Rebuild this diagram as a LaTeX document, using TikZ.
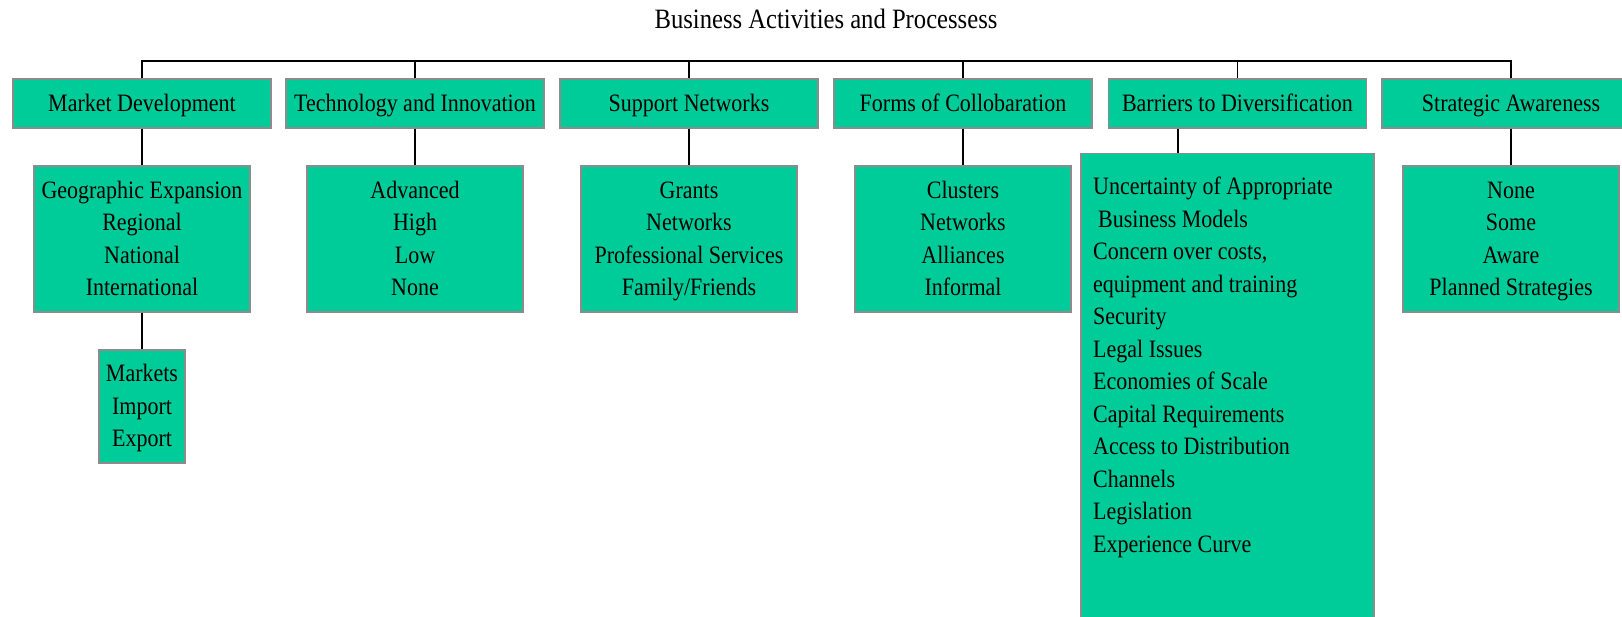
\documentclass[tikz,border=0pt]{standalone}
\usepackage{fontspec}
\setmainfont{Liberation Serif}[FakeStretch=0.88]
\definecolor{boxgreen}{HTML}{00CC99}
\definecolor{boxedge}{HTML}{8C8C8C}
\newcommand\ls{\rule[-5pt]{0pt}{26pt}}
\begin{document}
\begin{tikzpicture}[x=1pt,y=-1pt,
  box/.style={draw=boxedge, line width=1.5pt, fill=boxgreen, inner sep=0pt, align=center, font=\fontsize{25}{32.5}\selectfont},
  head/.style={box, minimum width=258pt, minimum height=49pt},
  sub/.style={box, minimum width=216pt, minimum height=146pt},
  link/.style={draw=black, line width=1.5pt}]
\clip (0,0) rectangle (1622,617);
\fill[white] (0,0) rectangle (1622,617);
\node[anchor=base, inner sep=0pt, font=\fontsize{28}{34}\selectfont] (title) at (826,29) {Business Activities and Processess};
\coordinate (bus) at (0,61);
\coordinate (bdx) at (1178,0);
% top row
\node[head] (md) at (142,103.5) {\ls Market Development};
\node[head] (ti) at (415,103.5) {\ls Technology and Innovation};
\node[head] (sn) at (689,103.5) {\ls Support Networks};
\node[head] (fc) at (963,103.5) {\ls Forms of Collobaration};
\node[head] (bd) at (1237.5,103.5) {\ls Barriers to Diversification};
\node[head] (sa) at (1511,103.5) {\ls Strategic Awareness};
% children
\node[sub] (ge) at (142,239) {\ls Geographic Expansion\\Regional\\National\\International\ls};
\node[box, minimum width=86pt, minimum height=113pt] (mk) at (142,406.5) {\ls Markets\\Import\\Export\ls};
\node[sub] (tic) at (415,239) {\ls Advanced\\High\\Low\\None\ls};
\node[sub] (snc) at (689,239) {\ls Grants\\Networks\\Professional Services\\Family/Friends\ls};
\node[sub] (fcc) at (963,239) {\ls Clusters\\Networks\\Alliances\\Informal\ls};
\node[sub] (sac) at (1511,239) {\ls None\\Some\\Aware\\Planned Strategies\ls};
\node[box, anchor=north west, minimum width=293pt, minimum height=480pt] (bdc) at (1080,153) {};
\node[anchor=north west, align=left, inner sep=0pt, font=\fontsize{25}{32.5}\selectfont] (bdt) at (1093,177)
 {Uncertainty of Appropriate\\\hspace*{5pt}Business Models\\Concern over costs,\\equipment and training\\Security\\Legal Issues\\Economies of Scale\\Capital Requirements\\Access to Distribution\\Channels\\Legislation\\Experience Curve};
% connectors
\draw[link] (md.north) -- (md.north |- bus) -- (sa.north |- bus) -- (sa.north);
\draw[link] (ti.north) -- (ti.north |- bus);
\draw[link] (sn.north) -- (sn.north |- bus);
\draw[link] (fc.north) -- (fc.north |- bus);
\draw[link] (bd.north) -- (bd.north |- bus);
\draw[link] (md.south) -- (ge.north);
\draw[link] (ge.south) -- (mk.north);
\draw[link] (ti.south) -- (tic.north);
\draw[link] (sn.south) -- (snc.north);
\draw[link] (fc.south) -- (fcc.north);
\draw[link] (bd.south -| bdx) -- (bdc.north -| bdx);
\draw[link] (sa.south) -- (sac.north);
\end{tikzpicture}
\end{document}
